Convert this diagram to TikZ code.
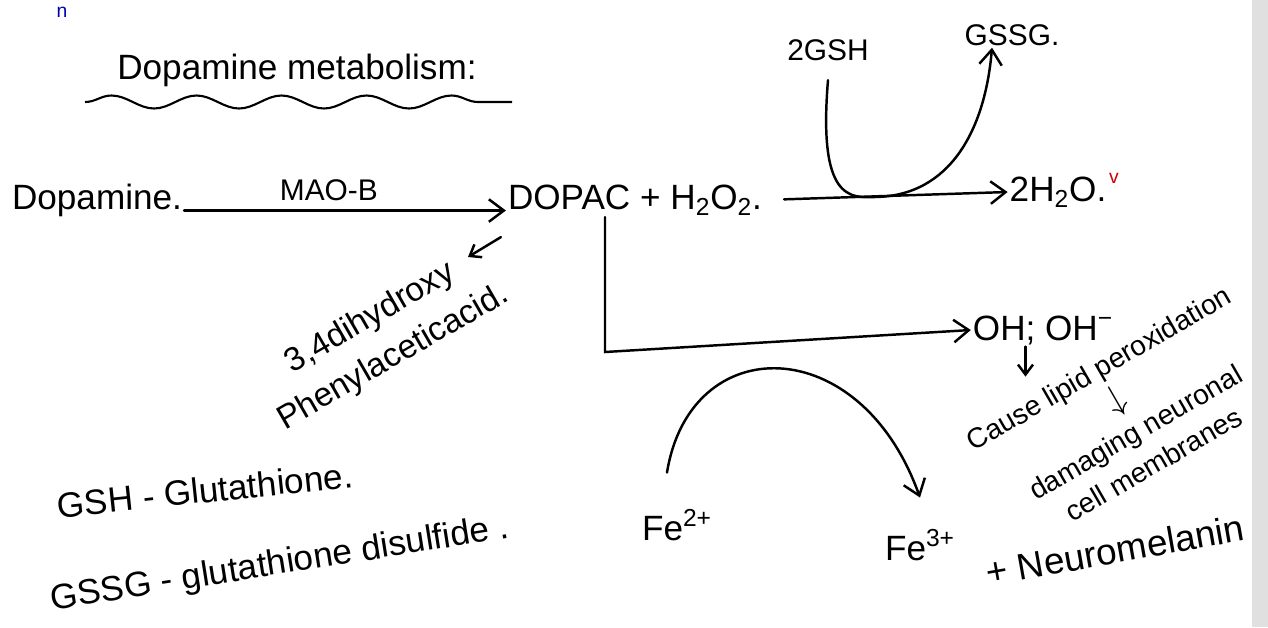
\documentclass[tikz,border=0pt]{standalone}
\usepackage{fontspec}
\setmainfont{Liberation Sans}
\usetikzlibrary{positioning,arrows.meta,decorations.pathmorphing}

\begin{document}
\begin{tikzpicture}[x=0.02cm, y=-0.02cm, every node/.style={inner sep=1pt, font=\fontsize{20}{24}\selectfont}, pen/.style={line width=1.4pt, line cap=round, -{Straight Barb[length=3mm,width=4.5mm]}}, pointer/.style={pen, -{Straight Barb[length=2mm,width=3mm]}}, note/.style={align=center, font=\fontsize{16}{21}\selectfont}]
\useasboundingbox (0,0) rectangle (1268,627);
\fill[black!12] (1252,0) rectangle (1268,627);
\node[text=blue!70!black, font=\fontsize{11}{13}\selectfont] (mark) at (62,12) {n};
\node (title) at (297,70) {Dopamine metabolism:};
\draw[line width=1.2pt, decorate, decoration={snake, segment length=1.7cm, amplitude=1.3mm}] (85,102) -- (512,102);
\node (dopamine) at (97,200) {Dopamine.};
\node (dopac) at (635,200) {DOPAC + H\textsubscript{2}O\textsubscript{2}.};
\node (water) at (1058,192) {2H\textsubscript{2}O.};
\node[text=red!80!black, font=\fontsize{11}{13}\selectfont] (tick) at (1114,178) {v};
\node[font=\fontsize{17}{20}\selectfont] (gsh) at (828,50) {2GSH};
\node[font=\fontsize{17}{20}\selectfont] (gssg) at (1012,35) {GSSG.};
\node[align=center, rotate=30, font=\fontsize{19}{26}\selectfont] (acid) at (382,338) {3,4dihydroxy\\Phenylaceticacid.};
\node (oh) at (1043,330) {OH; OH\textsuperscript{−}};
\node[note, rotate=30] (cause) at (1126,416) {Cause lipid peroxidation\\{\fontsize{22}{22}\selectfont$\downarrow$}\\damaging neuronal\\cell membranes};
\node[rotate=10, font=\fontsize{21}{25}\selectfont] (neuro) at (1115,550) {+ Neuromelanin};
\node (fe2) at (677,525) {Fe\textsuperscript{2+}};
\node (fe3) at (920,545) {Fe\textsuperscript{3+}};
\node[rotate=6] (gshdef) at (205,490) {GSH - Glutathione.};
\node[rotate=9] (gssgdef) at (280,565) {GSSG - glutathione disulfide .};
\coordinate (bend) at (605,352);
\coordinate (acidtip) at (468,257);
\draw[pen] ([yshift=-6pt]dopamine.east) -- node[above=4pt, pos=0.45, font=\fontsize{17}{20}\selectfont] {MAO-B} ([yshift=-6pt]dopac.west);
\draw[pen, shorten <=0.4cm] (dopac.east) -- (water.west);
\draw[pen] ([yshift=-0.35cm]gsh.south) .. controls (818,200) and (850,198) .. (875,197) .. controls (950,196) and (985,130) .. ([xshift=-0.4cm]gssg.south);
\draw[pen] (dopac.south -| bend) -- (bend) -- (oh.west);
\draw[pointer] ([xshift=-0.1cm,yshift=-0.4cm]dopac.south west) -- (acidtip);
\draw[pointer] ([xshift=-0.35cm]oh.south) -- ++(0,30);
\draw[pen] ([xshift=-0.2cm,yshift=0.7cm]fe2.north) .. controls (690,330) and (860,330) .. ([yshift=0.6cm]fe3.north);
\end{tikzpicture}
\end{document}
